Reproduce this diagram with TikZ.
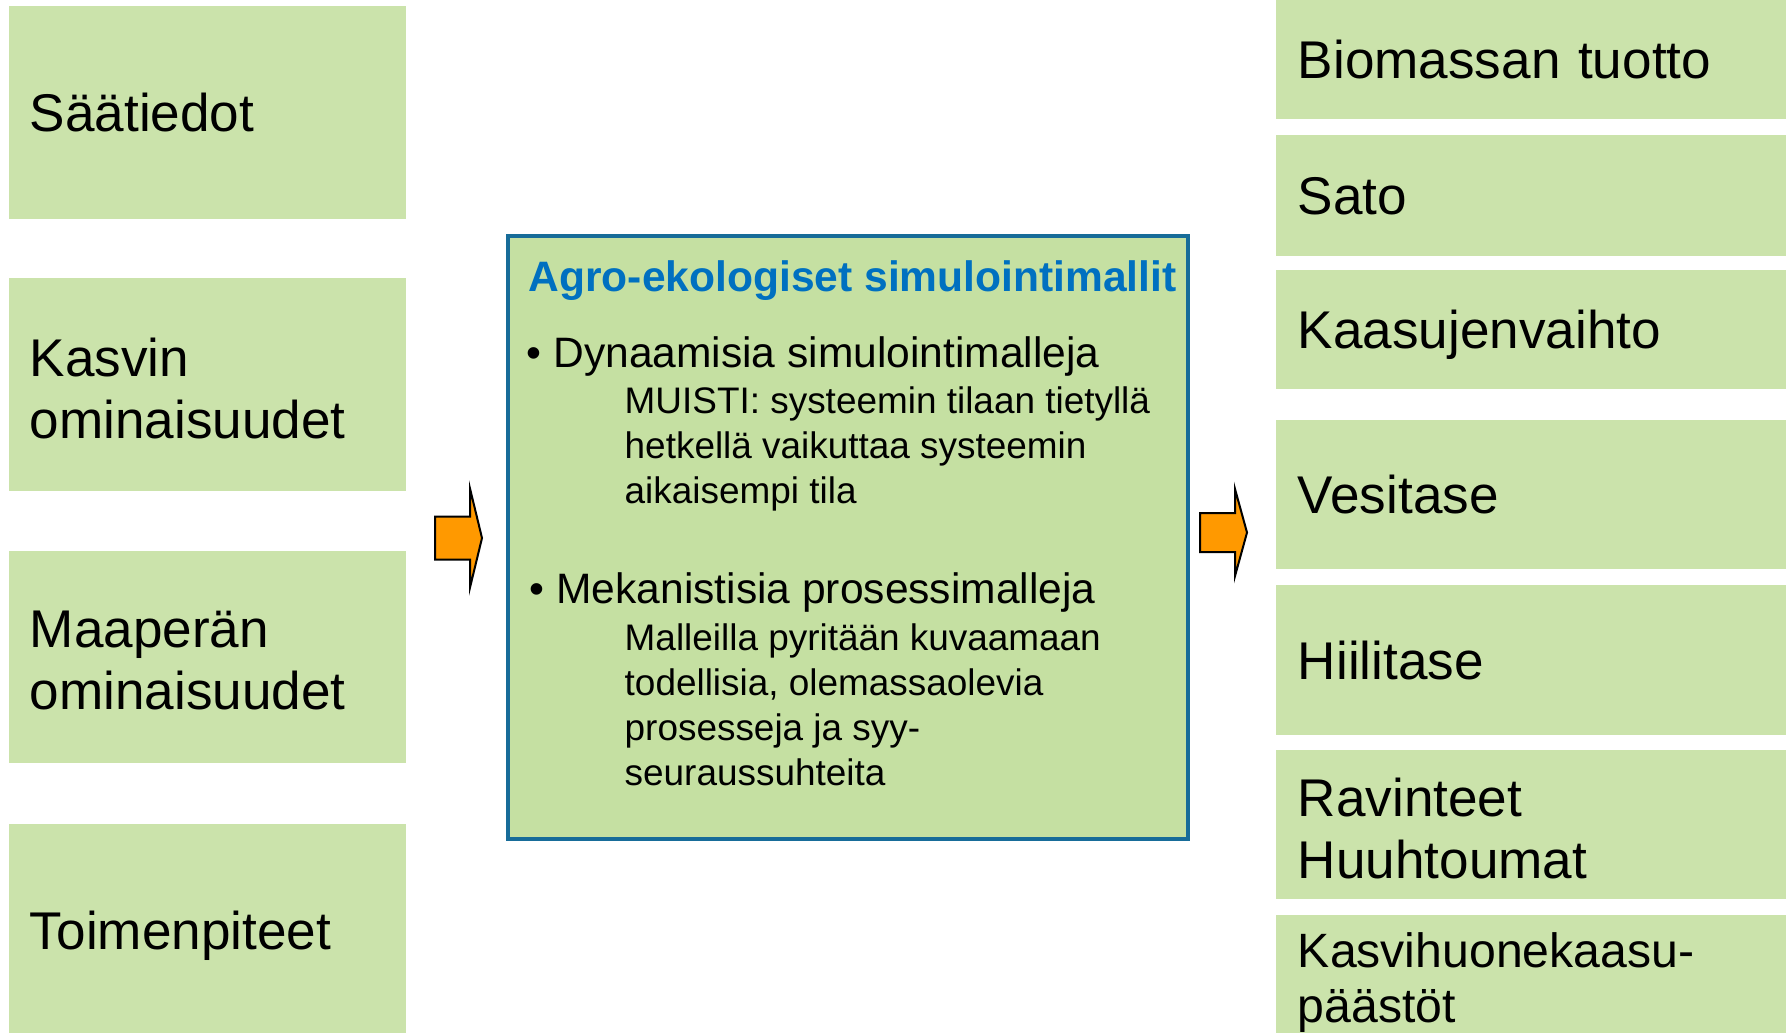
\documentclass[tikz,border=0pt]{standalone}
\usepackage{fontspec}
\setmainfont{Liberation Sans}
\usetikzlibrary{positioning}
\definecolor{boxgreen}{RGB}{203,227,171}
\definecolor{simgreen}{RGB}{197,224,162}
\definecolor{simblue}{RGB}{23,108,153}
\definecolor{titleblue}{RGB}{0,112,192}
\definecolor{arroworange}{RGB}{255,153,0}
\tikzset{
  inbox/.style={fill=boxgreen,minimum width=3.97cm,text width=3.55cm,inner xsep=0.21cm,inner ysep=0pt,align=left,font=\fontsize{15.1pt}{17.6pt}\selectfont},
  outbox/.style={fill=boxgreen,minimum width=5.10cm,text width=4.66cm,inner xsep=0.22cm,inner ysep=0pt,align=left,font=\fontsize{15.1pt}{17.6pt}\selectfont},
  oneline/.style={text depth=-0.07cm},
  twoline/.style={text depth=0.55cm},
  simbox/.style={draw=simblue,fill=simgreen,line width=0.045cm,minimum width=6.80cm,minimum height=6.03cm},
  titletext/.style={anchor=base west,inner sep=0pt,text=titleblue,font=\bfseries\fontsize{12.1pt}{14pt}\selectfont},
  itemtext/.style={anchor=base west,inner sep=0pt,font=\fontsize{12.1pt}{14.5pt}\selectfont},
  subtext/.style={anchor=base west,inner sep=0pt,font=\fontsize{10.5pt}{12.8pt}\selectfont},
  blockarrow/.style={draw=black,fill=arroworange,line width=0.02cm,line join=miter}
}

\begin{document}
\begin{tikzpicture}[x=0.01cm,y=-0.01cm]
\useasboundingbox (0,0) rectangle (1789,1032);
\clip (0,0) rectangle (1789,1032);
% --- inputs
\node[inbox,oneline,minimum height=2.13cm] (sat) at (207.5,112.5) {Säätiedot};
\node[inbox,twoline,minimum height=2.13cm] (kas) at (207.5,384.5) {Kasvin\\ominaisuudet};
\node[inbox,twoline,minimum height=2.12cm] (maa) at (207.5,657) {Maaperän\\ominaisuudet};
\node[inbox,oneline,minimum height=2.13cm] (toi) at (207.5,930.5) {Toimenpiteet};
% --- model
\node[simbox] (sim) at (848,537.5) {};
\node[titletext] (title) at (528,291) {Agro-ekologiset simulointimallit};
\node[itemtext] (dyn) at (526,367) {• Dynaamisia simulointimalleja};
\foreach \txt [count=\i] in {MUISTI: systeemin tilaan tietyllä,hetkellä vaikuttaa systeemin,aikaisempi tila}
  \node[subtext] (dyn\i) at (624,368+45*\i) {\txt};
\node[itemtext] (mek) at (529,603) {• Mekanistisia prosessimalleja};
\foreach \txt [count=\i] in {Malleilla pyritään kuvaamaan,{todellisia, olemassaolevia},prosesseja ja syy-,seuraussuhteita}
  \node[subtext] (mek\i) at (624,605+45*\i) {\txt};
% --- outputs
\node[outbox,oneline,minimum height=1.19cm] (bio) at (1531,59.5) {Biomassan tuotto};
\node[outbox,oneline,minimum height=1.21cm] (sato) at (1531,195.5) {Sato};
\node[outbox,oneline,minimum height=1.19cm] (kaasu) at (1531,329.5) {Kaasujenvaihto};
\node[outbox,oneline,minimum height=1.49cm] (vesi) at (1531,494.5) {Vesitase};
\node[outbox,oneline,minimum height=1.50cm] (hiili) at (1531,660) {Hiilitase};
\node[outbox,twoline,minimum height=1.49cm] (rav) at (1531,824.5) {Ravinteet\\Huuhtoumat};
\node[outbox,minimum height=1.35cm,font=\fontsize{13.7pt}{15.6pt}\selectfont] (khk) at (1531,982.5) {Kasvihuonekaasu-\\päästöt};
% --- block arrows
\coordinate (inarr) at (435,538);
\coordinate (outarr) at (1200,532.5);
\foreach \a/\shaft/\headh in {inarr/21.5/49.5,outarr/19.5/43.5}
  \draw[blockarrow] (\a) ++(0,-\shaft) -- ++(35,0) -- ++(0,{\shaft-\headh}) -- ++(12,\headh)
    -- ++(-12,\headh) -- ++(0,{\shaft-\headh}) -- ++(-35,0) -- cycle;
\end{tikzpicture}
\end{document}
